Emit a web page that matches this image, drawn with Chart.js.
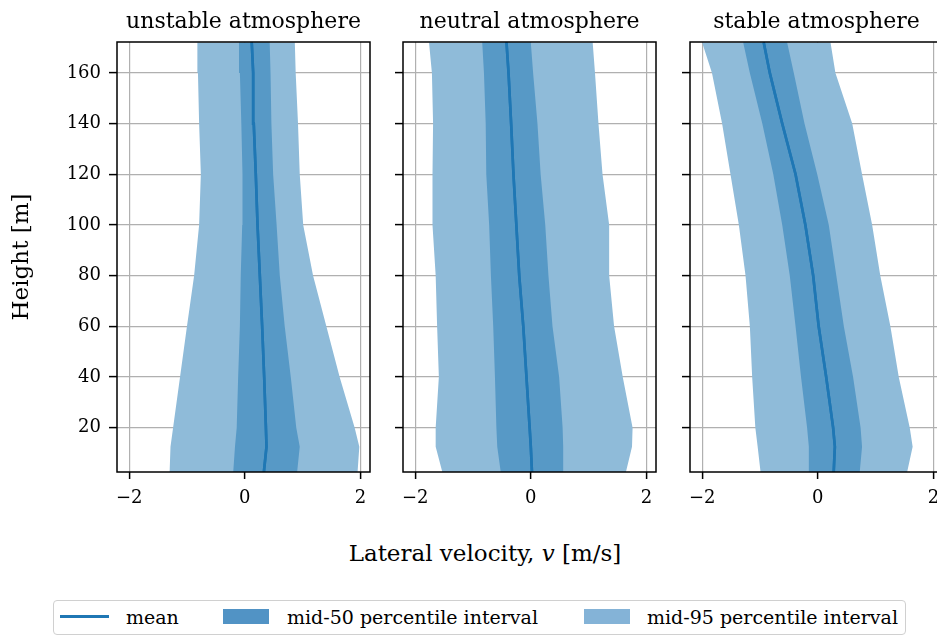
<!DOCTYPE html>
<html>
<head>
<meta charset="utf-8">
<script src="https://cdn.jsdelivr.net/npm/chart.js@4.4.1/dist/chart.umd.min.js"></script>
<style>
  body { margin: 0; width: 937px; height: 637px; overflow: hidden; background: #fff; position: relative;
         font-family: 'DejaVu Serif', serif; color: #000; }
  canvas { position: absolute; top: 0; }
  .title { position: absolute; top: 8px; width: 253px; text-align: center; font-size: 22px; line-height: 1.2; white-space: nowrap; }
  #xlabel { position: absolute; left: 0; width: 970px; top: 540px; text-align: center; font-size: 23px; line-height: 1.2; }
  #legend { position: absolute; left: 53px; top: 600px; width: 853px; height: 35px; box-sizing: border-box;
            border: 1.5px solid #d0d0d0; border-radius: 4px; font-size: 19px; }
  .item { position: absolute; top: 0; line-height: 32px; white-space: nowrap; }
  .sw { position: absolute; }
</style>
</head>
<body>
<canvas id="c0" width="373" height="520" style="left:0px"></canvas>
<canvas id="c1" width="276" height="520" style="left:383px"></canvas>
<canvas id="c2" width="276" height="520" style="left:670px"></canvas>
<div class="title" id="t0" style="left:117px"></div>
<div class="title" id="t1" style="left:403px"></div>
<div class="title" id="t2" style="left:690px"></div>
<div id="xlabel">Lateral velocity, <i>v</i> [m/s]</div>
<div id="legend">
  <div class="sw" style="left:6px;top:14px;width:49px;height:3px;background:#1f77b4"></div>
  <div class="item" style="left:72px">mean</div>
  <div class="sw" style="left:169px;top:8px;width:46px;height:15px;background:#5193c5"></div>
  <div class="item" style="left:233px">mid-50 percentile interval</div>
  <div class="sw" style="left:530px;top:8px;width:46px;height:15px;background:#84b3d7"></div>
  <div class="item" style="left:593px">mid-95 percentile interval</div>
</div>
<script>
// heights [m] at which the profiles are read
const heights = [2.5, 12.5, 20, 40, 60, 80, 100, 120, 140, 160, 172];
const titles = ['unstable atmosphere', 'neutral atmosphere', 'stable atmosphere'];
const xTicks = [-2, 0, 2];
const yTicks = [20, 40, 60, 80, 100, 120, 140, 160];

// one row per panel: unstable, neutral, stable
const lower95 = [
  [-1.30, -1.285, -1.24, -1.12, -1.00, -0.876, -0.79, -0.76, -0.79, -0.81, -0.82],
  [-1.53, -1.645, -1.645, -1.59, -1.62, -1.645, -1.70, -1.70, -1.69, -1.71, -1.76],
  [-0.99, -1.04, -1.08, -1.135, -1.175, -1.25, -1.365, -1.51, -1.655, -1.83, -2.0]
];
const lower50 = [
  [-0.20, -0.17, -0.14, -0.115, -0.085, -0.07, -0.045, -0.04, -0.06, -0.085, -0.10],
  [-0.52, -0.58, -0.595, -0.62, -0.65, -0.69, -0.72, -0.77, -0.78, -0.81, -0.84],
  [-0.155, -0.155, -0.185, -0.29, -0.385, -0.485, -0.615, -0.77, -0.96, -1.175, -1.29]
];
const meanV = [
  [0.33, 0.375, 0.365, 0.335, 0.30, 0.26, 0.22, 0.19, 0.155, 0.145, 0.12],
  [0.02, 0.0, -0.02, -0.075, -0.13, -0.20, -0.25, -0.30, -0.34, -0.385, -0.42],
  [0.275, 0.295, 0.265, 0.145, 0.015, -0.08, -0.215, -0.385, -0.615, -0.83, -0.935]
];
const upper50 = [
  [0.905, 0.95, 0.89, 0.795, 0.69, 0.605, 0.55, 0.49, 0.46, 0.445, 0.43],
  [0.56, 0.56, 0.55, 0.49, 0.375, 0.305, 0.25, 0.17, 0.115, 0.04, 0.0],
  [0.725, 0.765, 0.74, 0.61, 0.45, 0.32, 0.19, -0.01, -0.23, -0.415, -0.53]
];
const upper95 = [
  [1.95, 1.98, 1.90, 1.64, 1.41, 1.18, 1.01, 0.95, 0.92, 0.88, 0.865],
  [1.645, 1.75, 1.76, 1.59, 1.44, 1.355, 1.355, 1.24, 1.17, 1.11, 1.07],
  [1.545, 1.64, 1.59, 1.40, 1.255, 1.08, 0.94, 0.765, 0.595, 0.305, 0.22]
];

const font = 'DejaVu Serif';

// closed polygon: up the left edge, back down the right edge
function band(lo, hi) {
  let pts = heights.map((h, i) => ({x: lo[i], y: h}));
  for (let i = heights.length - 1; i >= 0; i--) pts.push({x: hi[i], y: heights[i]});
  return pts;
}

// matplotlib draws the grid over the bands but under the mean line
const meanOnTop = {
  id: 'meanOnTop',
  afterDraw(chart) {
    const ctx = chart.ctx, a = chart.chartArea;
    ctx.save();
    ctx.beginPath();
    ctx.rect(a.left, a.top, a.right - a.left, a.bottom - a.top);
    ctx.clip();
    chart.getDatasetMeta(0).dataset.draw(ctx, a);
    ctx.restore();
    ctx.save();
    ctx.strokeStyle = '#000';
    ctx.lineWidth = 1.5;
    ctx.strokeRect(a.left, a.top, a.right - a.left, a.bottom - a.top);
    ctx.restore();
  }
};

function makePanel(p) {
  document.getElementById('t' + p).textContent = titles[p];
  let yWidth = p === 0 ? 117 : 20;
  // datasets are painted last-to-first, so the wide band goes last
  new Chart(document.getElementById('c' + p), {
    type: 'scatter',
    data: {
      datasets: [
        {data: heights.map((h, i) => ({x: meanV[p][i], y: h})), showLine: true, fill: false,
         pointRadius: 0, borderWidth: 2.6, borderColor: '#1f77b4', tension: 0},
        {data: band(lower50[p], upper50[p]), showLine: true, fill: 'shape', pointRadius: 0,
         borderWidth: 0, borderColor: 'rgba(0,0,0,0)', backgroundColor: '#5799c6'},
        {data: band(lower95[p], upper95[p]), showLine: true, fill: 'shape', pointRadius: 0,
         borderWidth: 0, borderColor: 'rgba(0,0,0,0)', backgroundColor: '#8fbbd9'}
      ]
    },
    options: {
      responsive: false,
      animation: false,
      events: [],
      layout: {padding: {top: 42, right: 3, bottom: 0, left: 0}},
      plugins: {
        legend: {display: false},
        tooltip: {enabled: false}
      },
      scales: {
        x: {
          type: 'linear', min: -2.21, max: 2.165, z: 1,
          afterBuildTicks: s => { s.ticks = xTicks.map(v => ({value: v})); },
          afterFit: s => { s.height = 48; s.paddingLeft = 0; s.paddingRight = 0; },
          grid: {color: '#b0b0b0', lineWidth: 1.2, tickLength: 7, tickColor: '#000', tickWidth: 1.5},
          border: {display: false},
          ticks: {color: '#000', padding: 9, maxRotation: 0, autoSkip: false,
                  font: {family: font, size: 18},
                  callback: v => String(v).replace('-', '\u2212')}
        },
        y: {
          type: 'linear', min: 2.5, max: 172.2, z: 1,
          afterBuildTicks: s => { s.ticks = yTicks.map(v => ({value: v})); },
          afterFit: s => { s.width = yWidth; },
          grid: {color: '#b0b0b0', lineWidth: 1.2, tickLength: 8, tickColor: '#000', tickWidth: 1.5},
          border: {display: false},
          ticks: {display: p === 0, color: '#000', padding: 8, autoSkip: false,
                  font: {family: font, size: 18}},
          title: {display: p === 0, text: 'Height [m]', color: '#000',
                  font: {family: font, size: 23}, padding: {top: 8, bottom: 0}}
        }
      }
    },
    plugins: [meanOnTop]
  });
}

[0, 1, 2].forEach(makePanel);
</script>
</body>
</html>
